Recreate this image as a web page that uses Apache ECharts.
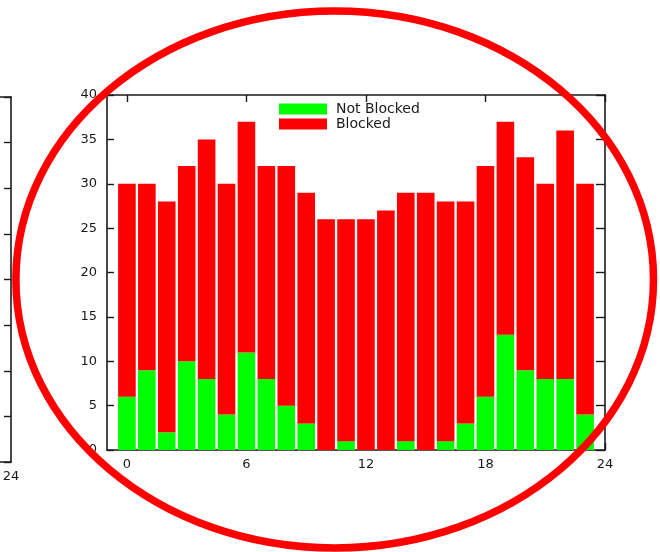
<!DOCTYPE html>
<html>
<head>
<meta charset="utf-8">
<script src="https://cdn.jsdelivr.net/npm/echarts@6/dist/echarts.min.js"></script>
<style>
  html, body { margin: 0; padding: 0; background: #fff; }
  #chart { width: 660px; height: 552px; }
</style>
</head>
<body>
<div id="chart"></div>
<script>
// Hourly request counts, split into blocked / not blocked
const hours = [0, 1, 2, 3, 4, 5, 6, 7, 8, 9, 10, 11, 12, 13, 14, 15, 16, 17, 18, 19, 20, 21, 22, 23];
const notBlocked = [6, 9, 2, 10, 8, 4, 11, 8, 5, 3, 0, 1, 0, 0, 1, 0, 1, 3, 6, 13, 9, 8, 8, 4];
const blocked = [24, 21, 26, 22, 27, 26, 26, 24, 27, 26, 26, 25, 26, 27, 28, 29, 27, 25, 26, 24, 24, 22, 28, 26];
const seriesNames = ['Not Blocked', 'Blocked'];
const xTickLabels = ['0', '6', '12', '18', '24'];
const yMin = 0, yMax = 40, yStep = 5;

// the hour axis runs one slot before the first hour and ends at 24
const xCategories = ['-1', ...hours.map(String), '24'];
const isTickHour = (idx, val) => xTickLabels.includes(String(val));

const FONT = 'DejaVu Sans';
const INK = '#1a1a1a';
const frameLine = { show: true, onZero: false, lineStyle: { color: INK, width: 1.6 } };
const tickLine = { color: INK, width: 1.4 };
const labelStyle = { fontFamily: FONT, fontSize: 13, color: INK };

const chart = echarts.init(document.getElementById('chart'), null, { renderer: 'canvas' });

chart.setOption({
  animation: false,
  backgroundColor: '#ffffff',
  grid: [
    // main plot
    { left: 107, width: 498, top: 95, height: 355, containLabel: false, outerBoundsMode: 'none' },
    // neighbouring panel, mostly outside the page on the left
    { left: -300, width: 311, top: 97, height: 365, containLabel: false, outerBoundsMode: 'none' }
  ],
  legend: {
    data: seriesNames,
    orient: 'vertical',
    left: 279,
    top: 102,
    padding: 0,
    icon: 'rect',
    itemWidth: 48,
    itemHeight: 11,
    itemGap: 1,
    textStyle: { fontFamily: FONT, fontSize: 14, color: INK, lineHeight: 14, padding: [0, 0, 0, 4] }
  },
  xAxis: [
    {
      gridIndex: 0, type: 'category', data: xCategories, boundaryGap: false, position: 'bottom',
      axisLine: frameLine,
      axisTick: { show: true, inside: true, length: 7, interval: isTickHour, lineStyle: tickLine },
      axisLabel: { ...labelStyle, margin: 8, interval: isTickHour },
      splitLine: { show: false }
    },
    {
      gridIndex: 0, type: 'category', data: xCategories, boundaryGap: false, position: 'top',
      axisLine: frameLine,
      axisTick: { show: true, inside: true, length: 7, interval: isTickHour, lineStyle: tickLine },
      axisLabel: { show: false },
      splitLine: { show: false }
    },
    {
      gridIndex: 1, type: 'value', min: 0, max: 24, position: 'bottom',
      axisLine: frameLine,
      axisTick: { show: false },
      axisLabel: { ...labelStyle, margin: 8, customValues: [24] },
      splitLine: { show: false }
    },
    {
      gridIndex: 1, type: 'value', min: 0, max: 24, position: 'top',
      axisLine: frameLine,
      axisTick: { show: false },
      axisLabel: { show: false },
      splitLine: { show: false }
    }
  ],
  yAxis: [
    {
      gridIndex: 0, type: 'value', min: yMin, max: yMax, interval: yStep, position: 'left',
      axisLine: frameLine,
      axisTick: { show: true, inside: true, length: 7, lineStyle: tickLine },
      axisLabel: { ...labelStyle, margin: 10 },
      splitLine: { show: false }
    },
    {
      gridIndex: 0, type: 'value', min: yMin, max: yMax, interval: yStep, position: 'right',
      axisLine: frameLine,
      axisTick: { show: true, inside: true, length: 9, lineStyle: tickLine },
      axisLabel: { show: false },
      splitLine: { show: false }
    },
    {
      gridIndex: 1, type: 'value', min: yMin, max: yMax, interval: yStep, position: 'right',
      axisLine: frameLine,
      axisTick: { show: true, inside: true, length: 7, lineStyle: tickLine },
      axisLabel: { show: false },
      splitLine: { show: false }
    }
  ],
  series: [
    {
      name: seriesNames[0],
      type: 'bar',
      xAxisIndex: 0,
      yAxisIndex: 0,
      stack: 'total',
      barWidth: 17.6,
      itemStyle: { color: '#00ff00' },
      data: hours.map((h, i) => [String(h), notBlocked[i]])
    },
    {
      name: seriesNames[1],
      type: 'bar',
      xAxisIndex: 0,
      yAxisIndex: 0,
      stack: 'total',
      barWidth: 17.6,
      itemStyle: { color: '#ff0000' },
      data: hours.map((h, i) => [String(h), blocked[i]])
    }
  ],
  graphic: [
    {
      type: 'ellipse',
      z: 100,
      silent: true,
      shape: { cx: 334.7, cy: 279.5, rx: 318.8, ry: 268.5 },
      style: { fill: null, stroke: '#ff0000', lineWidth: 7.5 }
    }
  ]
});
</script>
</body>
</html>
